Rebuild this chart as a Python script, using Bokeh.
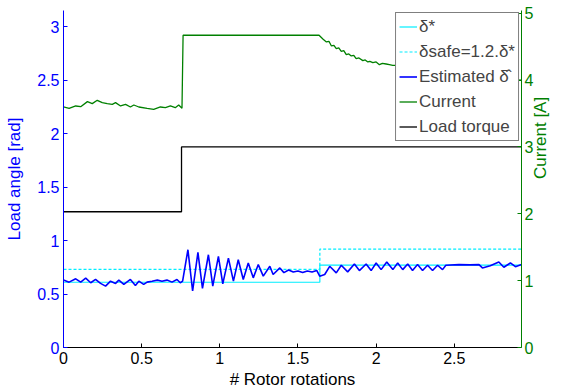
import math
from bokeh.plotting import figure
from bokeh.models import Range1d, LinearAxis, FixedTicker, Legend, LegendItem
from bokeh.embed import file_html
from bokeh.resources import INLINE

# ---------------- data ----------------
x_ticks = [0, 0.5, 1, 1.5, 2, 2.5]
x_tick_labels = ["0", "0.5", "1", "1.5", "2", "2.5"]
left_ticks = [0, 0.5, 1, 1.5, 2, 2.5, 3]
left_tick_labels = ["0", "0.5", "1", "1.5", "2", "2.5", "3"]
right_ticks = [0, 1, 2, 3, 4, 5]
right_tick_labels = ["0", "1", "2", "3", "4", "5"]

delta_star_t = [0.0, 1.64, 2.93]
delta_star = [0.61, 0.77, 0.77]
delta_safe = [0.73, 0.92, 0.92]

torque_t = [0.0, 0.755, 2.93]
torque = [2.03, 3.0, 3.0]

est_t = [0.0, 0.036, 0.078, 0.11, 0.142, 0.174, 0.205, 0.237, 0.269, 0.301,
         0.333, 0.354, 0.386, 0.428, 0.46, 0.482, 0.513, 0.535, 0.567, 0.6,
         0.63, 0.662, 0.694, 0.726, 0.747, 0.762,
         0.796, 0.826, 0.86, 0.889, 0.927, 0.955, 0.991, 1.019, 1.055, 1.087,
         1.118, 1.15, 1.182, 1.214, 1.246, 1.278, 1.32, 1.341, 1.384, 1.41,
         1.44, 1.47, 1.5, 1.53, 1.56, 1.59, 1.62, 1.639,
         1.671, 1.703, 1.745, 1.777, 1.818, 1.861, 1.893, 1.936, 1.968, 2.0,
         2.032, 2.068, 2.107, 2.138, 2.17, 2.202, 2.233, 2.265, 2.297, 2.329,
         2.361, 2.393, 2.425, 2.446, 2.53, 2.6, 2.658, 2.68, 2.73, 2.785,
         2.817, 2.859, 2.891, 2.93]
est = [0.63, 0.611, 0.642, 0.611, 0.648, 0.605, 0.636, 0.599, 0.574, 0.62,
       0.599, 0.63, 0.59, 0.636, 0.58, 0.62, 0.59, 0.611, 0.62, 0.63,
       0.62, 0.63, 0.611, 0.636, 0.605, 0.62,
       0.914, 0.528, 0.889, 0.553, 0.867, 0.574, 0.852, 0.595, 0.836, 0.62,
       0.82, 0.636, 0.79, 0.651, 0.775, 0.667, 0.76, 0.682, 0.744, 0.70,
       0.725, 0.705, 0.715, 0.70, 0.715, 0.705, 0.72, 0.667,
       0.682, 0.759, 0.698, 0.769, 0.707, 0.781, 0.719, 0.781, 0.719, 0.79,
       0.728, 0.799, 0.728, 0.79, 0.728, 0.781, 0.719, 0.775, 0.719, 0.769,
       0.719, 0.769, 0.728, 0.769, 0.775, 0.772, 0.775, 0.744, 0.765, 0.799,
       0.75, 0.79, 0.755, 0.775]

cur_t = [0.0, 0.036, 0.078, 0.11, 0.153, 0.184, 0.216, 0.248, 0.28, 0.312,
         0.333, 0.365, 0.397, 0.428, 0.45, 0.482, 0.535, 0.577, 0.62, 0.652,
         0.684, 0.715, 0.737, 0.758, 0.765, 1.635, 1.661, 1.682, 1.698, 1.714,
         1.73, 1.745, 1.761, 1.777, 1.793, 1.809, 1.825, 1.841, 1.857, 1.872,
         1.89, 1.915, 1.93, 1.947, 1.96, 1.979, 2.0, 2.021, 2.04, 2.064,
         2.085, 2.106, 2.125, 2.148, 2.3, 2.5, 2.7, 2.93]
cur = [3.597, 3.577, 3.612, 3.602, 3.677, 3.647, 3.697, 3.662, 3.647, 3.637,
       3.662, 3.612, 3.637, 3.597, 3.627, 3.597, 3.577, 3.562, 3.597, 3.587,
       3.612, 3.587, 3.627, 3.577, 4.67, 4.67, 4.61, 4.57, 4.58, 4.51,
       4.52, 4.47, 4.48, 4.43, 4.44, 4.38, 4.39, 4.36, 4.37, 4.32,
       4.33, 4.29, 4.30, 4.27, 4.28, 4.26, 4.27, 4.23, 4.25, 4.24,
       4.23, 4.22, 4.22, 4.19, 4.14, 4.08, 4.03, 4.0]

# ---------------- styling ----------------
FONT = "Liberation Sans"
BLUE = "#0000ff"
GREEN = "#008000"
CYAN = "#00eeff"

p = figure(width=562, height=391, output_backend="svg", toolbar_location=None,
           x_range=Range1d(0, 2.93), y_range=Range1d(0, 3.15),
           min_border_left=63, min_border_right=39, min_border_top=10,
           min_border_bottom=44)
p.extra_y_ranges = {"cur": Range1d(0, 5.04)}
p.outline_line_color = None
p.grid.visible = False
p.background_fill_color = "white"
p.border_fill_color = "white"

# x axis
xa = p.xaxis[0]
xa.ticker = FixedTicker(ticks=x_ticks)
xa.major_label_overrides = {t: l for t, l in zip(x_ticks, x_tick_labels)}
xa.axis_label = "# Rotor rotations"
xa.axis_line_color = "black"
xa.major_tick_line_color = "black"
xa.major_label_text_color = "black"
xa.axis_label_text_color = "black"

# left axis
ya = p.yaxis[0]
ya.ticker = FixedTicker(ticks=left_ticks)
ya.major_label_overrides = {t: l for t, l in zip(left_ticks, left_tick_labels)}
ya.axis_label = "Load angle [rad]"
ya.axis_line_color = BLUE
ya.major_tick_line_color = BLUE
ya.major_label_text_color = BLUE
ya.axis_label_text_color = BLUE

# right axis
ra = LinearAxis(y_range_name="cur", ticker=FixedTicker(ticks=right_ticks),
                axis_label="Current [A]")
ra.major_label_overrides = {t: l for t, l in zip(right_ticks, right_tick_labels)}
ra.axis_line_color = GREEN
ra.major_tick_line_color = GREEN
ra.major_label_text_color = GREEN
ra.axis_label_text_color = GREEN
p.add_layout(ra, "right")

for ax in [xa, ya, ra]:
    ax.major_tick_in = 4
    ax.major_tick_out = 0
    ax.minor_tick_line_color = None
    ax.major_label_text_font = FONT
    ax.major_label_text_font_size = "16px"
    ax.axis_label_text_font = FONT
    ax.axis_label_text_font_size = "17px"
    ax.axis_label_text_font_style = "normal"
    ax.axis_line_width = 1
    ax.major_label_standoff = 4
ya.axis_label_standoff = 10
ra.major_label_standoff = 3
ra.axis_label_standoff = 4
ra.axis_label_orientation = math.pi / 2
xa.axis_label_standoff = 3

# ---------------- glyphs ----------------
r_star = p.step(delta_star_t, delta_star, mode="after", line_color=CYAN, line_width=1.2)
r_safe = p.step(delta_star_t, delta_safe, mode="after", line_color=CYAN, line_width=1.2,
                line_dash="3 2")
r_cur = p.line(cur_t, cur, line_color=GREEN, line_width=1.3, y_range_name="cur")
r_tq = p.step(torque_t, torque, mode="after", line_color="black", line_width=1.3,
              y_range_name="cur")
r_est = p.line(est_t, est, line_color=BLUE, line_width=1.6)

legend = Legend(items=[
    LegendItem(label="δ*", renderers=[r_star]),
    LegendItem(label="δsafe=1.2.δ*", renderers=[r_safe]),
    LegendItem(label="Estimated δ̂", renderers=[r_est]),
    LegendItem(label="Current", renderers=[r_cur]),
    LegendItem(label="Load torque", renderers=[r_tq]),
], location="top_right")
legend.label_text_font = FONT
legend.label_text_font_size = "17px"
legend.label_height = 21
legend.glyph_height = 21
legend.glyph_width = 18
legend.label_standoff = 2
legend.spacing = 4
legend.padding = 3
legend.margin = 2
legend.border_line_color = "black"
legend.border_line_width = 1
legend.background_fill_color = "white"
legend.background_fill_alpha = 1.0
p.add_layout(legend)

open("out.html", "w").write(file_html(p, INLINE))
